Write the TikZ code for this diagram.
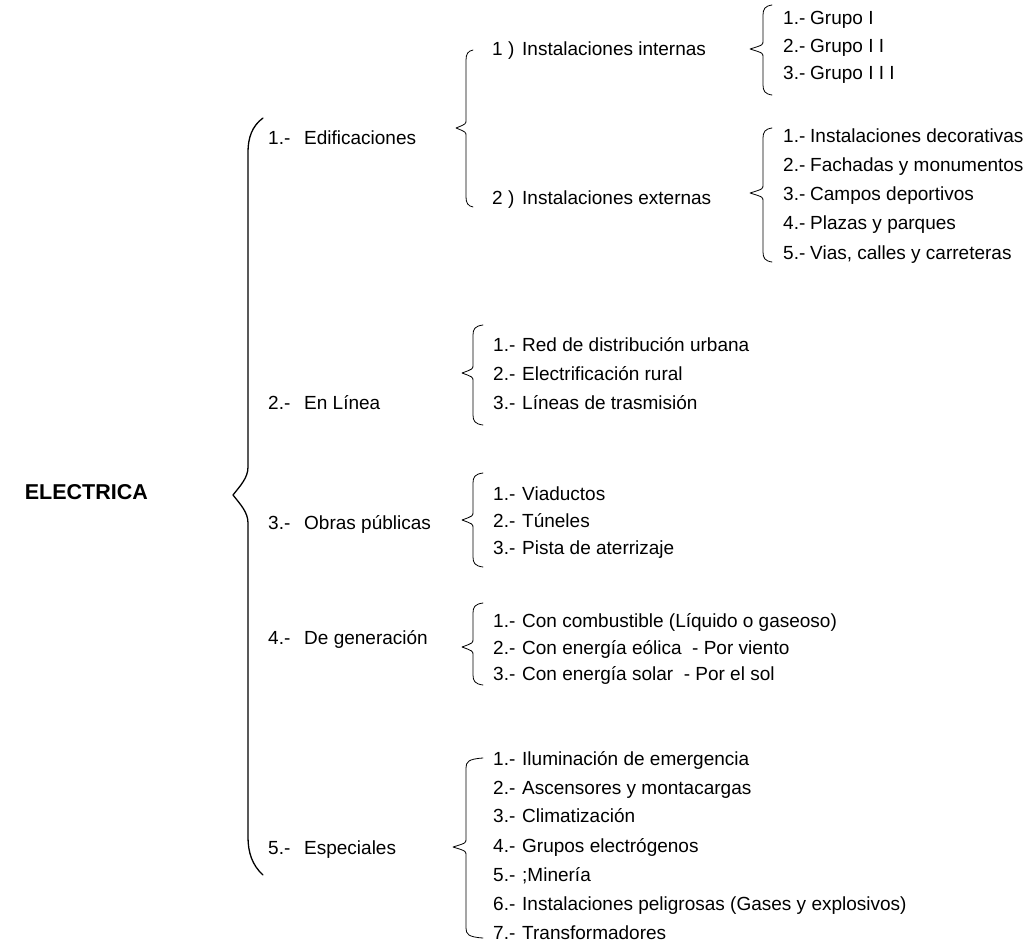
\documentclass[tikz,border=0pt]{standalone}
\usepackage{fontspec}
\setmainfont{Liberation Sans}
\begin{document}
\begin{tikzpicture}[x=1pt,y=-1pt,
  txt/.style={anchor=base west, inner sep=0pt, font=\fontsize{19}{22}\selectfont},
  title/.style={anchor=base east, inner sep=0pt, font=\fontsize{21.5}{24}\selectfont\bfseries},
  brc/.style={line width=0.8pt, line join=round, line cap=round},
  mainbrc/.style={line width=1.3pt, line join=round, line cap=round}]
\useasboundingbox (0,0) rectangle (1029,943);
% #1 line x, #2 tip x, #3 top, #4 mid, #5 bottom, #6 hook width, #7 style
\newcommand\cbrace[7]{%
  \draw[#7] (#1+#6,#3) .. controls (#1+2,#3+1) and (#1,#3+4) .. (#1,#3+10)
    -- (#1,#4-8) .. controls (#1,#4-4) .. (#2,#4)
    .. controls (#1,#4+4) .. (#1,#4+8)
    -- (#1,#5-10) .. controls (#1,#5-4) and (#1+2,#5-1) .. (#1+#6,#5);}

% title
\node[title] (root) at (148,499) {ELECTRICA};
% main brace
\draw[mainbrc] (263,118) .. controls (252,126) and (248,138) .. (248,152)
  -- (248,467) .. controls (248,478) and (240,486) .. (233,495)
  .. controls (240,504) and (248,512) .. (248,523)
  -- (248,837) .. controls (248,852) and (252,865) .. (263,875);

% level 1
\node[txt] (l1) at (268,144) {\makebox[36pt][l]{1.-}Edificaciones};
\node[txt] (l2) at (268,409) {\makebox[36pt][l]{2.-}En Línea};
\node[txt] (l3) at (268,529) {\makebox[36pt][l]{3.-}Obras públicas};
\node[txt] (l4) at (268,644) {\makebox[36pt][l]{4.-}De generación};
\node[txt] (l5) at (268,854) {\makebox[36pt][l]{5.-}Especiales};

% Edificaciones
\cbrace{466}{456}{50}{128}{207}{7}{brc}
\node[txt] (e1) at (492,55) {\makebox[30pt][l]{1 )}Instalaciones internas};
\node[txt] (e2) at (492,204) {\makebox[30pt][l]{2 )}Instalaciones externas};

\cbrace{763}{750}{5}{49}{95}{9}{brc}
\node[txt] (g1) at (783,24) {\makebox[27pt][l]{1.-}Grupo I};
\node[txt] (g2) at (783,52) {\makebox[27pt][l]{2.-}Grupo I I};
\node[txt] (g3) at (783,79) {\makebox[27pt][l]{3.-}Grupo I I I};

\cbrace{763}{750}{128}{193}{262}{9}{brc}
\node[txt] (x1) at (783,142) {\makebox[27pt][l]{1.-}Instalaciones decorativas};
\node[txt] (x2) at (783,171) {\makebox[27pt][l]{2.-}Fachadas y monumentos};
\node[txt] (x3) at (783,200) {\makebox[27pt][l]{3.-}Campos deportivos};
\node[txt] (x4) at (783,229) {\makebox[27pt][l]{4.-}Plazas y parques};
\node[txt] (x5) at (783,259) {\makebox[27pt][l]{5.-}Vias, calles y carreteras};

% En Linea
\cbrace{473}{462}{325}{373}{425}{10}{brc}
\node[txt] (n1) at (493,351) {\makebox[29pt][l]{1.-}Red de distribución urbana};
\node[txt] (n2) at (493,380) {\makebox[29pt][l]{2.-}Electrificación rural};
\node[txt] (n3) at (493,409) {\makebox[29pt][l]{3.-}Líneas de trasmisión};

% Obras
\cbrace{473}{462}{473}{520}{567}{10}{brc}
\node[txt] (o1) at (493,500) {\makebox[29pt][l]{1.-}Viaductos};
\node[txt] (o2) at (493,527) {\makebox[29pt][l]{2.-}Túneles};
\node[txt] (o3) at (493,554) {\makebox[29pt][l]{3.-}Pista de aterrizaje};

% Generacion
\cbrace{473}{462}{603}{647}{685}{10}{brc}
\node[txt] (d1) at (493,627) {\makebox[29pt][l]{1.-}Con combustible (Líquido o gaseoso)};
\node[txt] (d2) at (493,654) {\makebox[29pt][l]{2.-}Con energía eólica \ - Por viento};
\node[txt] (d3) at (493,680) {\makebox[29pt][l]{3.-}Con energía solar \ - Por el sol};

% Especiales
\cbrace{466}{453}{758}{847}{938}{17}{brc}
\node[txt] (s1) at (493,765) {\makebox[29pt][l]{1.-}Iluminación de emergencia};
\node[txt] (s2) at (493,794) {\makebox[29pt][l]{2.-}Ascensores y montacargas};
\node[txt] (s3) at (493,822) {\makebox[29pt][l]{3.-}Climatización};
\node[txt] (s4) at (493,852) {\makebox[29pt][l]{4.-}Grupos electrógenos};
\node[txt] (s5) at (493,881) {\makebox[29pt][l]{5.-};Minería};
\node[txt] (s6) at (493,910) {\makebox[29pt][l]{6.-}Instalaciones peligrosas (Gases y explosivos)};
\node[txt] (s7) at (493,939) {\makebox[29pt][l]{7.-}Transformadores};
\end{tikzpicture}
\end{document}
